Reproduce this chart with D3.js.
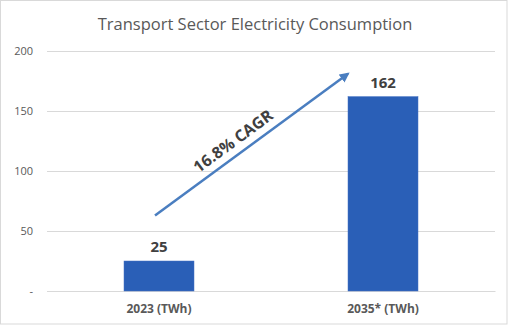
<!DOCTYPE html>
<html>
<head>
<meta charset="utf-8">
<script src="https://cdn.jsdelivr.net/npm/d3@7"></script>
<style>
  body { margin: 0; background: #fff; }
  text { font-family: "Open Sans", "Noto Sans", sans-serif; }
</style>
</head>
<body>
<div id="chart"></div>
<script>
// consumption per year, TWh
const categories = ["2023 (TWh)", "2035* (TWh)"];
const values = [25, 162];
const yTicks = [0, 50, 100, 150, 200];
const cagrLabel = "16.8% CAGR";
// growth arrow, in data terms (value at tail and head)
const arrowFrom = 63;
const arrowTo = 181;

const W = 509, H = 326;
const margin = { top: 51, right: 14, bottom: 35, left: 47 };
const width = W - margin.left - margin.right;
const height = H - margin.top - margin.bottom;

const root = d3.select("#chart")
  .append("svg")
  .attr("width", W)
  .attr("height", H);

root.append("rect")
  .attr("x", 0.5).attr("y", 0.5)
  .attr("width", W - 2.5).attr("height", H - 2.5)
  .attr("fill", "#fff")
  .attr("stroke", "#d9d9d9");

root.append("text")
  .attr("x", 255)
  .attr("y", 30)
  .attr("text-anchor", "middle")
  .attr("fill", "#595959")
  .style("font-size", "16.5px")
  .text("Transport Sector Electricity Consumption");

const svg = root.append("g")
  .attr("transform", `translate(${margin.left},${margin.top})`);

const x = d3.scaleBand()
  .domain(categories)
  .range([0, width])
  .paddingInner(0.6875)
  .paddingOuter(0.34375);

const y = d3.scaleLinear()
  .domain([0, 200])
  .range([height, 0]);

// gridlines + y labels
const yAxis = svg.append("g")
  .call(d3.axisLeft(y)
    .tickValues(yTicks)
    .tickSize(-width)
    .tickPadding(14)
    .tickFormat(d => d === 0 ? "-" : d));
yAxis.select(".domain").remove();
yAxis.selectAll("line").attr("stroke", "#d9d9d9");
yAxis.selectAll("text")
  .attr("fill", "#595959")
  .style("font-size", "11px")
  .style("font-family", "'Open Sans', sans-serif");

// category labels
const xAxis = svg.append("g")
  .attr("transform", `translate(0,${height})`)
  .call(d3.axisBottom(x).tickSize(0).tickPadding(13));
xAxis.select(".domain").attr("stroke", "#d9d9d9");
xAxis.selectAll("text")
  .attr("fill", "#595959")
  .style("font-size", "12px")
  .style("font-weight", "bold")
  .style("font-family", "'Open Sans', sans-serif");

svg.selectAll(".bar")
  .data(values)
  .enter().append("rect")
  .attr("class", "bar")
  .attr("x", (d, i) => x(categories[i]))
  .attr("width", x.bandwidth())
  .attr("y", d => y(d))
  .attr("height", d => height - y(d))
  .attr("fill", "#2a5fb7")
  .attr("stroke", "#4472c4")
  .attr("stroke-width", 0.5);

svg.selectAll(".value")
  .data(values)
  .enter().append("text")
  .attr("class", "value")
  .attr("x", (d, i) => x(categories[i]) + x.bandwidth() / 2)
  .attr("y", d => y(d) - 9)
  .attr("text-anchor", "middle")
  .attr("fill", "#404040")
  .style("font-size", "15px")
  .style("font-weight", "bold")
  .text(d => d);

// CAGR arrow from first bar towards second
const defs = root.append("defs");
defs.append("marker")
  .attr("id", "head")
  .attr("viewBox", "0 0 10 10")
  .attr("refX", 8).attr("refY", 5)
  .attr("markerWidth", 4).attr("markerHeight", 4)
  .attr("orient", "auto")
  .append("path")
  .attr("d", "M0,0 L10,5 L0,10 z")
  .attr("fill", "#4a7ec0");

const x1 = x(categories[0]) + x.bandwidth() / 2 - 4;
const y1 = y(arrowFrom);
const x2 = x(categories[1]);
const y2 = y(arrowTo);

svg.append("line")
  .attr("x1", x1).attr("y1", y1)
  .attr("x2", x2).attr("y2", y2)
  .attr("stroke", "#4a7ec0")
  .attr("stroke-width", 2.5)
  .attr("marker-end", "url(#head)");

const angle = Math.atan2(y2 - y1, x2 - x1) * 180 / Math.PI;
svg.append("text")
  .attr("transform", `translate(${(x1 + x2) / 2 - 15},${(y1 + y2) / 2 + 1}) rotate(${angle})`)
  .attr("text-anchor", "middle")
  .attr("fill", "#404040")
  .style("font-size", "16px")
  .style("font-weight", "bold")
  .text(cagrLabel);
</script>
</body>
</html>
